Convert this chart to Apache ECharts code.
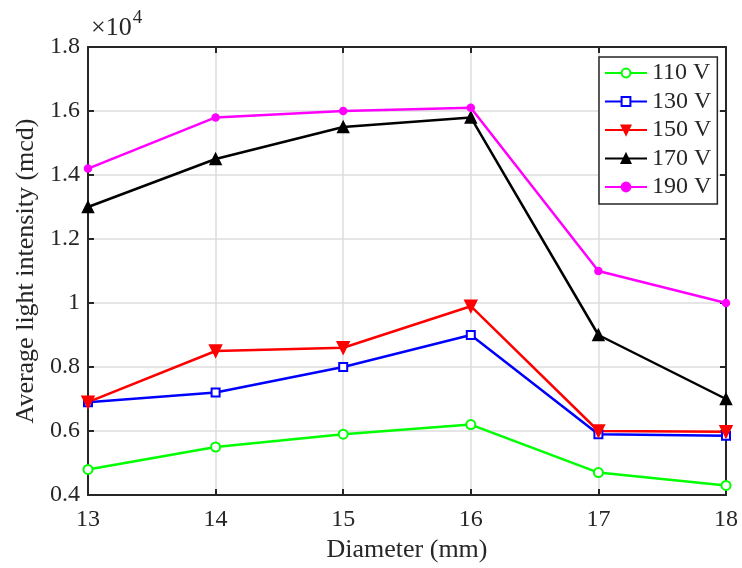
<!DOCTYPE html>
<html>
<head>
<meta charset="utf-8">
<script src="https://cdn.jsdelivr.net/npm/echarts@6/dist/echarts.min.js"></script>
<style>
  html, body { margin: 0; padding: 0; background: #fff; }
  #main { width: 742px; height: 568px; }
</style>
</head>
<body>
<div id="main"></div>
<script>
var diameters = [13, 14, 15, 16, 17, 18]
var v110 = [4800, 5500, 5900, 6200, 4700, 4300]
var v130 = [6900, 7200, 8000, 9000, 5900, 5850]
var v150 = [6900, 8500, 8600, 9900, 6000, 5980]
var v170 = [13000, 14500, 15500, 15800, 9000, 7000]
var v190 = [14200, 15800, 16000, 16100, 11000, 10000]

var font = 'Liberation Serif'
var ink = '#262626'

function pairs(ys) {
  return diameters.map(function (x, i) { return [x, ys[i]] })
}

function line(name, ys, color, symbol, size, rotate) {
  return {
    name: name,
    type: 'line',
    data: pairs(ys),
    symbol: symbol,
    symbolSize: size,
    symbolRotate: rotate || 0,
    showAllSymbol: true,
    lineStyle: { color: color, width: 2.5 },
    itemStyle: { color: color, borderColor: color, borderWidth: 1.5 },
    emphasis: { disabled: true },
    animation: false
  }
}

var chart = echarts.init(document.getElementById('main'))
chart.setOption({
  backgroundColor: '#fff',
  textStyle: { fontFamily: font },
  grid: { left: 88, right: 16, top: 47, bottom: 73 },
  legend: {
    orient: 'vertical',
    left: 599,
    top: 57,
    padding: [4, 6, 5, 5],
    itemWidth: 42,
    itemHeight: 11,
    itemGap: 4.5,
    backgroundColor: '#fff',
    borderColor: ink,
    borderWidth: 1.5,
    borderRadius: 0,
    textStyle: { fontFamily: font, fontSize: 24, color: ink },
    data: ['110 V', '130 V', '150 V', '170 V', '190 V']
  },
  xAxis: [{
    type: 'value',
    min: 13,
    max: 18,
    interval: 1,
    name: 'Diameter (mm)',
    nameLocation: 'middle',
    nameGap: 41,
    nameTextStyle: { fontFamily: font, fontSize: 26, color: ink },
    axisLine: { lineStyle: { color: ink, width: 2 } },
    axisTick: { inside: true, length: 6, lineStyle: { color: ink, width: 2 } },
    axisLabel: { fontFamily: font, fontSize: 24, color: ink, margin: 13 },
    splitLine: { show: true, lineStyle: { color: '#dcdcdc', width: 1.5 } }
  }, {
    type: 'value',
    position: 'top',
    min: 13,
    max: 18,
    interval: 1,
    axisLine: { show: true, lineStyle: { color: ink, width: 2 } },
    axisTick: { show: true, inside: true, length: 6, lineStyle: { color: ink, width: 2 } },
    axisLabel: { show: false },
    splitLine: { show: false }
  }],
  yAxis: [{
    type: 'value',
    min: 4000,
    max: 18000,
    interval: 2000,
    name: 'Average light intensity (mcd)',
    nameLocation: 'middle',
    nameGap: 47,
    nameTextStyle: { fontFamily: font, fontSize: 26, color: ink },
    axisLine: { show: true, lineStyle: { color: ink, width: 2 } },
    axisTick: { show: true, inside: true, length: 6, lineStyle: { color: ink, width: 2 } },
    axisLabel: {
      fontFamily: font, fontSize: 24, color: ink, margin: 8,
      formatter: function (v) { return String(Math.round(v / 1000) / 10) }
    },
    splitLine: { show: true, lineStyle: { color: '#dcdcdc', width: 1.5 } }
  }, {
    type: 'value',
    position: 'right',
    min: 4000,
    max: 18000,
    interval: 2000,
    axisLine: { show: true, lineStyle: { color: ink, width: 2 } },
    axisTick: { show: true, inside: true, length: 6, lineStyle: { color: ink, width: 2 } },
    axisLabel: { show: false },
    splitLine: { show: false }
  }],
  graphic: [{
    type: 'text',
    left: 91,
    top: 9,
    style: {
      text: '{a|×10}{b|4}',
      rich: {
        a: { fontFamily: font, fontSize: 26, fill: ink, verticalAlign: 'bottom' },
        b: { fontFamily: font, fontSize: 19, fill: ink, verticalAlign: 'top', padding: [0, 0, 13, 1] }
      }
    }
  }],
  series: [
    line('110 V', v110, '#00ff00', 'emptyCircle', 9),
    line('130 V', v130, '#0000ff', 'emptyRect', 8),
    line('150 V', v150, '#ff0000', 'triangle', 12, 180),
    line('170 V', v170, '#000000', 'triangle', 11),
    line('190 V', v190, '#ff00ff', 'circle', 7)
  ]
})
</script>
</body>
</html>
